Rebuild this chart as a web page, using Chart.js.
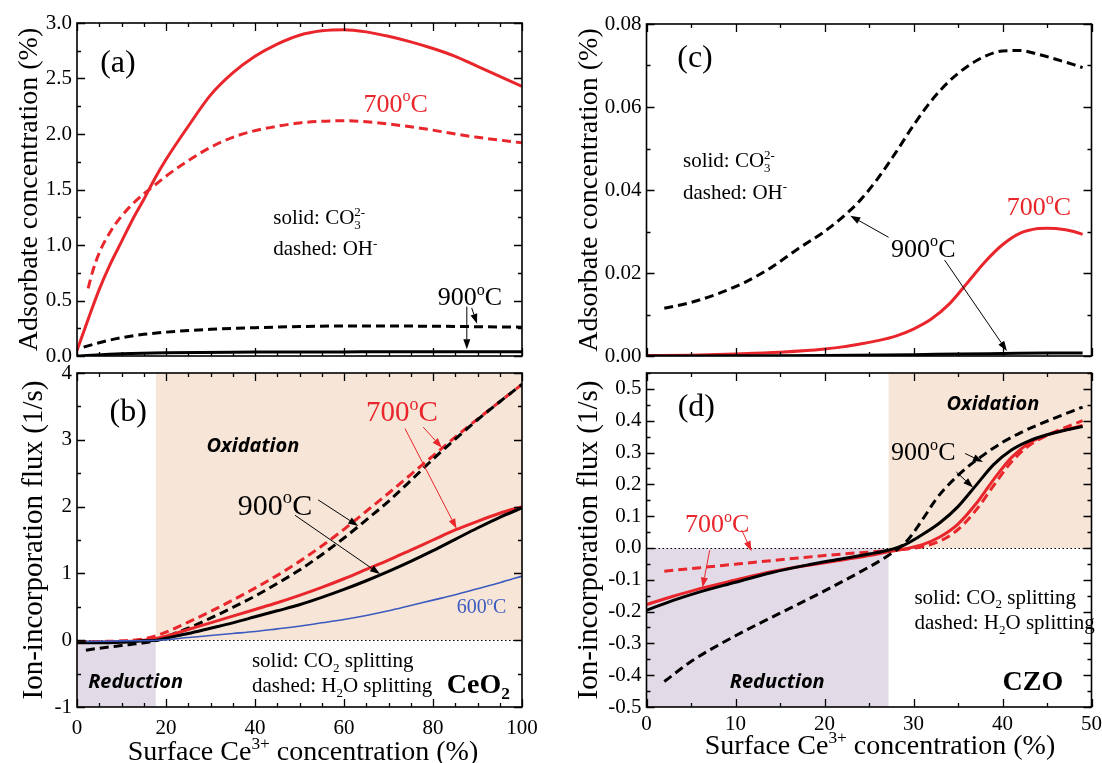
<!DOCTYPE html>
<html><head><meta charset="utf-8">
<script src="https://cdn.jsdelivr.net/npm/chart.js@4.4.1/dist/chart.umd.min.js"></script>
<style>
html,body{margin:0;padding:0;background:#fff;width:1102px;height:763px;overflow:hidden}
canvas{position:absolute;left:0;top:0}
</style></head><body>
<canvas id="ca" width="1102" height="763"></canvas>
<canvas id="cb" width="1102" height="763"></canvas>
<canvas id="cc" width="1102" height="763"></canvas>
<canvas id="cd" width="1102" height="763"></canvas>
<script>
// ===== Panel (a): adsorbate concentration on CeO2 (%) =====
const aX_700_CO3 = [0,2.5,5,7.5,10,12.5,15,17.5,20,25,30,35,40,45,50,55,60,65,70,75,80,85,90,95,100];
const aY_700_CO3 = [0.05,0.33,0.6,0.83,1.03,1.23,1.41,1.6,1.77,2.07,2.35,2.55,2.7,2.81,2.89,2.93,2.94,2.92,2.88,2.83,2.77,2.7,2.61,2.52,2.43];
const aX_700_OH  = [2.5,3.5,5,7.5,10,12.5,15,17.5,20,25,30,35,40,45,50,55,60,65,70,75,80,85,90,95,100];
const aY_700_OH  = [0.61,0.76,0.93,1.12,1.26,1.37,1.46,1.54,1.62,1.76,1.88,1.97,2.03,2.07,2.1,2.115,2.12,2.11,2.09,2.065,2.035,2.0,1.97,1.945,1.92];
const aX_900_OH  = [1.5,5,10,15,20,30,40,50,60,70,80,90,100];
const aY_900_OH  = [0.08,0.12,0.165,0.195,0.215,0.24,0.255,0.265,0.27,0.27,0.268,0.264,0.26];
const aX_900_CO3 = [0,10,20,40,60,80,100];
const aY_900_CO3 = [0.0,0.02,0.03,0.035,0.037,0.038,0.038];
const aXTicks = [0,20,40,60,80,100];
const aYTicks = [0,0.5,1.0,1.5,2.0,2.5,3.0];

// ===== Panel (b): ion-incorporation flux, CeO2 (1/s) =====
const bX_700_H2O = [0,5,10,15,18,20,25,30,35,40,45,50,55,60,65,70,75,80,85,90,95,100];
const bY_700_H2O = [-0.03,-0.02,-0.01,0.02,0.07,0.12,0.27,0.43,0.6,0.78,0.97,1.18,1.41,1.66,1.93,2.2,2.48,2.76,3.04,3.31,3.57,3.83];
const bX_900_H2O = [2,5,10,15,18,20,25,30,35,40,45,50,55,60,65,70,75,80,85,90,95,100];
const bY_900_H2O = [-0.15,-0.12,-0.08,-0.04,0.0,0.05,0.18,0.33,0.49,0.66,0.85,1.05,1.28,1.53,1.8,2.08,2.39,2.71,3.01,3.3,3.57,3.83];
const bX_700_CO2 = [0,5,10,15,18,20,25,30,35,40,45,50,55,60,65,70,75,80,85,90,95,100];
const bY_700_CO2 = [-0.03,-0.03,-0.02,0.0,0.03,0.06,0.16,0.26,0.36,0.46,0.56,0.67,0.79,0.92,1.06,1.2,1.35,1.5,1.65,1.78,1.9,2.0];
const bX_900_CO2 = [0,5,10,15,18,20,25,30,35,40,45,50,55,60,65,70,75,80,85,90,95,100];
const bY_900_CO2 = [-0.04,-0.04,-0.03,-0.01,0.0,0.03,0.1,0.18,0.26,0.35,0.44,0.53,0.64,0.76,0.89,1.03,1.18,1.34,1.51,1.68,1.84,1.98];
const bX_600_CO2 = [2,10,18,25,30,35,40,45,50,55,60,65,70,75,80,85,90,95,100];
const bY_600_CO2 = [-0.02,-0.01,0.0,0.04,0.07,0.1,0.13,0.17,0.21,0.26,0.31,0.37,0.44,0.52,0.6,0.68,0.77,0.86,0.96];
const bXTicks = [0,20,40,60,80,100];
const bYTicks = [-1,0,1,2,3,4];
const bReductionX = [0,17.7], bReductionY = [-1,0];
const bOxidationX = [17.7,100], bOxidationY = [0,4];

// ===== Panel (c): adsorbate concentration on CZO (%) =====
const cX_900_OH  = [2,5,8,11,14,17,20,22,24,26,28,30,32,34,36,38,40,42,44,46,48,49];
const cY_900_OH  = [0.0115,0.0129,0.015,0.0177,0.0213,0.0258,0.03,0.0334,0.0375,0.0428,0.049,0.0556,0.0615,0.0662,0.0697,0.0722,0.0735,0.0736,0.0727,0.0715,0.0702,0.0695];
const cX_700_CO3 = [0,5,10,15,18,20,22,24,26,28,30,32,34,36,38,40,42,44,45,46,48,49];
const cY_700_CO3 = [0.0001,0.0002,0.0005,0.0009,0.0013,0.0017,0.0022,0.0029,0.0037,0.0048,0.0065,0.0089,0.0125,0.0175,0.0226,0.0268,0.0296,0.0307,0.0308,0.0307,0.03,0.0293];
const cX_900_CO3 = [0,10,20,30,35,40,45,49];
const cY_900_CO3 = [0,0.00005,0.0001,0.0003,0.0005,0.0006,0.0007,0.0007];
const cXTicks = [0,10,20,30,40,50];
const cYTicks = [0,0.02,0.04,0.06,0.08];

// ===== Panel (d): ion-incorporation flux, CZO (1/s) =====
const dX_900_H2O = [2,5,10,15,20,25,27,28.5,29.5,30.5,31.5,32.5,33.5,35,36,38,40,42,44,46,48,49];
const dY_900_H2O = [-0.42,-0.357,-0.276,-0.205,-0.135,-0.06,-0.027,0.003,0.03,0.068,0.11,0.152,0.186,0.228,0.253,0.295,0.332,0.362,0.387,0.41,0.432,0.443];
const dX_900_CO2 = [0,3,6,10,14,18,22,25,27,29,31,33,35,37,39,41,43,45,47,49];
const dY_900_CO2 = [-0.196,-0.165,-0.138,-0.108,-0.078,-0.054,-0.034,-0.019,-0.008,0.01,0.042,0.08,0.13,0.196,0.262,0.308,0.337,0.356,0.37,0.382];
const dX_700_CO2 = [0,3,6,10,14,18,22,25,27,29,31,33,35,37,39,41,43,45,47,49];
const dY_700_CO2 = [-0.178,-0.152,-0.128,-0.101,-0.075,-0.055,-0.038,-0.024,-0.013,-0.003,0.01,0.035,0.075,0.138,0.215,0.284,0.33,0.355,0.371,0.385];
const dX_700_H2O = [2,6,10,14,18,22,26,29,31,33,35,37,39,41,43,45,47,49];
const dY_700_H2O = [-0.073,-0.062,-0.051,-0.04,-0.029,-0.019,-0.011,-0.004,0.004,0.022,0.058,0.118,0.196,0.27,0.322,0.354,0.378,0.4];
const dXTicks = [0,10,20,30,40,50];
const dYTicks = [-0.5,-0.4,-0.3,-0.2,-0.1,0.0,0.1,0.2,0.3,0.4,0.5];
const dReductionX = [0,27.2], dReductionY = [-0.5,0];
const dOxidationX = [27.2,50], dOxidationY = [0,0.55];

// ===== styling =====
const W = 1102, H = 763, YW = 70;
const RED = '#e8262b', BLACK = '#000000', BLUE = '#3b5bbf';
const OXI = 'rgb(247,229,215)', RED_ZONE = 'rgb(226,219,231)';
const SERIF = '"Liberation Serif", Tinos, "Times New Roman", "Nimbus Roman", "DejaVu Serif", serif';
const SANS = '"Open Sans", "Liberation Sans", sans-serif';
const DASH = [9,5];

function deg(v){ return [{t:v},{sup:'o'},{t:'C'}]; }
const T_CO3 = [{t:'solid: CO'},{sub:'3',sup:'2-'}];
const T_OH  = [{t:'dashed: OH'},{sup:'-'}];
const T_CO2 = [{t:'solid: CO'},{sub:'2'},{t:' splitting'}];
const T_H2O = [{t:'dashed: H'},{sub:'2'},{t:'O splitting'}];
const T_XTITLE = [{t:'Surface Ce'},{sup:'3+'},{t:' concentration (%)'}];

function ser(x, y, color, w, dash){ return {x, y, color, w, dash}; }

const PANELS = {
  ca: {
    box:{l:77,r:522,t:23,b:356}, xh:0, xpad:9, xr:[0,100], yr:[0,3], xTicks:aXTicks, yTicks:aYTicks,
    xMinor:5, yMinor:0.25, xLabels:false, yDec:1,
    series:[ser(aX_900_CO3,aY_900_CO3,BLACK,3), ser(aX_900_OH,aY_900_OH,BLACK,3,DASH),
            ser(aX_700_OH,aY_700_OH,RED,3,DASH), ser(aX_700_CO3,aY_700_CO3,RED,3)],
    regions:[], zero:false,
    texts:[
      {x:9.2,y:2.65,parts:[{t:'(a)'}],size:32,align:'center'},
      {x:71.6,y:2.28,parts:deg('700'),size:26,align:'center',color:RED},
      {x:44.1,y:1.25,parts:T_CO3,size:21,align:'left'},
      {x:44.1,y:0.97,parts:T_OH,size:21,align:'left'},
      {x:88.3,y:0.535,parts:deg('900'),size:26,align:'center'}
    ],
    arrows:[{x1:87.6,y1:0.445,x2:87.6,y2:0.06,c:BLACK},{x1:88.7,y1:0.433,x2:89.9,y2:0.29,c:BLACK}],
    yTitle:{parts:[{t:'Adsorbate concentration (%)'}],x:28,size:28}, xTitle:null
  },
  cb: {
    box:{l:77,r:522,t:373,b:707}, xh:40, xpad:9, xr:[0,100], yr:[-1,4], xTicks:bXTicks, yTicks:bYTicks,
    xMinor:5, yMinor:0.5, xLabels:true, yDec:0,
    series:[ser(bX_600_CO2,bY_600_CO2,BLUE,1.6), ser(bX_900_CO2,bY_900_CO2,BLACK,3), ser(bX_700_CO2,bY_700_CO2,RED,3),
            ser(bX_900_H2O,bY_900_H2O,BLACK,3,DASH), ser(bX_700_H2O,bY_700_H2O,RED,3,DASH)],
    regions:[{x:bReductionX,y:bReductionY,c:RED_ZONE},{x:bOxidationX,y:bOxidationY,c:OXI}], zero:true,
    texts:[
      {x:11.5,y:3.44,parts:[{t:'(b)'}],size:32,align:'center'},
      {x:29.1,y:2.92,parts:[{t:'Oxidation'}],size:20,align:'left',family:SANS,weight:'bold',style:'italic'},
      {x:2.5,y:-0.62,parts:[{t:'Reduction'}],size:20,align:'left',family:SANS,weight:'bold',style:'italic'},
      {x:44.5,y:2.02,parts:deg('900'),size:30,align:'center'},
      {x:73.0,y:3.42,parts:deg('700'),size:29,align:'center',color:RED},
      {x:90.9,y:0.50,parts:deg('600'),size:20,align:'center',color:BLUE},
      {x:39.3,y:-0.30,parts:T_CO2,size:21,align:'left'},
      {x:39.3,y:-0.67,parts:T_H2O,size:21,align:'left'},
      {x:83.1,y:-0.65,parts:[{t:'CeO'},{sub:'2'}],size:28,align:'left',weight:'bold'}
    ],
    arrows:[{x1:54.2,y1:2.10,x2:63.2,y2:1.71,c:BLACK},{x1:49.0,y1:1.87,x2:68.1,y2:0.99,c:BLACK},
            {x1:77.8,y1:3.19,x2:82.0,y2:2.88,c:RED},{x1:73.7,y1:3.17,x2:85.3,y2:1.67,c:RED}],
    yTitle:{parts:[{t:'Ion-incorporation flux (1/s)'}],x:32,size:29},
    xTitle:{parts:T_XTITLE,x:303,y:751,size:28}
  },
  cc: {
    box:{l:646.5,r:1091.5,t:24,b:356}, xh:0, xpad:9, xr:[0,50], yr:[0,0.08], xTicks:cXTicks, yTicks:cYTicks,
    xMinor:5, yMinor:0.01, xLabels:false, yDec:2,
    series:[ser(cX_900_CO3,cY_900_CO3,BLACK,3), ser(cX_700_CO3,cY_700_CO3,RED,3), ser(cX_900_OH,cY_900_OH,BLACK,3,DASH)],
    regions:[], zero:false,
    texts:[
      {x:5.45,y:0.0721,parts:[{t:'(c)'}],size:32,align:'center'},
      {x:4.1,y:0.0472,parts:T_CO3,size:21,align:'left'},
      {x:4.1,y:0.0396,parts:T_OH,size:21,align:'left'},
      {x:44.1,y:0.0361,parts:deg('700'),size:26,align:'center',color:RED},
      {x:31.1,y:0.026,parts:deg('900'),size:26,align:'center'}
    ],
    arrows:[{x1:27.2,y1:0.0286,x2:22.9,y2:0.0338,c:BLACK},{x1:33.5,y1:0.0231,x2:40.5,y2:0.0012,c:BLACK}],
    yTitle:{parts:[{t:'Adsorbate concentration (%)'}],x:588,size:28}, xTitle:null
  },
  cd: {
    box:{l:646.5,r:1091.5,t:373,b:707}, xh:40, xpad:5, xr:[0,50], yr:[-0.5,0.55], xTicks:dXTicks, yTicks:dYTicks,
    xMinor:5, yMinor:0.05, xLabels:true, yDec:1,
    series:[ser(dX_900_H2O,dY_900_H2O,BLACK,3,DASH), ser(dX_900_CO2,dY_900_CO2,BLACK,3),
            ser(dX_700_CO2,dY_700_CO2,RED,3), ser(dX_700_H2O,dY_700_H2O,RED,3,DASH)],
    regions:[{x:dReductionX,y:dReductionY,c:RED_ZONE},{x:dOxidationX,y:dOxidationY,c:OXI}], zero:true,
    texts:[
      {x:5.6,y:0.448,parts:[{t:'(d)'}],size:32,align:'center'},
      {x:7.95,y:0.077,parts:deg('700'),size:26,align:'center',color:RED},
      {x:33.7,y:0.454,parts:[{t:'Oxidation'}],size:20,align:'left',family:SANS,weight:'bold',style:'italic'},
      {x:9.36,y:-0.421,parts:[{t:'Reduction'}],size:20,align:'left',family:SANS,weight:'bold',style:'italic'},
      {x:31.1,y:0.302,parts:deg('900'),size:26,align:'center'},
      {x:30.1,y:-0.154,parts:T_CO2,size:21,align:'left'},
      {x:30.1,y:-0.233,parts:T_H2O,size:21,align:'left'},
      {x:40.0,y:-0.416,parts:[{t:'CZO'}],size:28,align:'left',weight:'bold'}
    ],
    arrows:[{x1:7.1,y1:-0.007,x2:6.3,y2:-0.124,c:RED},{x1:10.7,y1:0.056,x2:11.8,y2:-0.01,c:RED},
            {x1:35.8,y1:0.297,x2:37.8,y2:0.27,c:BLACK},{x1:34.8,y1:0.239,x2:36.7,y2:0.19,c:BLACK}],
    yTitle:{parts:[{t:'Ion-incorporation flux (1/s)'}],x:587,size:29},
    xTitle:{parts:T_XTITLE,x:880,y:745,size:28}
  }
};

// ===== drawing helpers =====
function fontStr(t, size){ return (t.style||'normal') + ' ' + (t.weight||'normal') + ' ' + size + 'px ' + (t.family||SERIF); }
function measureParts(ctx, t){
  let w = 0; const items = [];
  for (const p of t.parts){
    let pw;
    if (p.t !== undefined){ ctx.font = fontStr(t, t.size); pw = ctx.measureText(p.t).width; }
    else { ctx.font = fontStr(t, t.size*0.62);
      pw = Math.max(p.sub ? ctx.measureText(p.sub).width : 0, p.sup ? ctx.measureText(p.sup).width : 0); }
    items.push({p, w: pw}); w += pw;
  }
  return {w, items};
}
function drawRich(ctx, t, x, y){
  const m = measureParts(ctx, t);
  let cx = t.align === 'center' ? x - m.w/2 : (t.align === 'right' ? x - m.w : x);
  ctx.fillStyle = t.color || '#000';
  ctx.textAlign = 'left'; ctx.textBaseline = 'alphabetic';
  const base = y + t.size*0.33;
  for (const it of m.items){
    const p = it.p;
    if (p.t !== undefined){ ctx.font = fontStr(t, t.size); ctx.fillText(p.t, cx, base); }
    else {
      ctx.font = fontStr(t, t.size*0.62);
      if (p.sub) ctx.fillText(p.sub, cx, base + t.size*0.22);
      if (p.sup) ctx.fillText(p.sup, cx, base - t.size*0.4);
    }
    cx += it.w;
  }
}
function drawArrow(ctx, x1, y1, x2, y2, color){
  const ang = Math.atan2(y2-y1, x2-x1), L = 10, hw = 3.5;
  const bx = x2 - L*Math.cos(ang), by = y2 - L*Math.sin(ang);
  ctx.strokeStyle = color; ctx.fillStyle = color; ctx.lineWidth = 1; ctx.setLineDash([]);
  ctx.beginPath(); ctx.moveTo(x1, y1); ctx.lineTo(bx, by); ctx.stroke();
  ctx.beginPath(); ctx.moveTo(x2, y2);
  ctx.lineTo(bx + hw*Math.sin(ang), by - hw*Math.cos(ang));
  ctx.lineTo(bx - hw*Math.sin(ang), by + hw*Math.cos(ang));
  ctx.closePath(); ctx.fill();
}
function isMajor(list, v){ return list.some(t => Math.abs(t - v) < 1e-9); }

const panelPlugin = {
  id: 'panelDeco',
  beforeDatasetsDraw(chart){
    const P = PANELS[chart.canvas.id]; const ctx = chart.ctx;
    const xs = chart.scales.x, ys = chart.scales.y, a = chart.chartArea;
    ctx.save();
    for (const r of P.regions){
      const x1 = xs.getPixelForValue(r.x[0]), x2 = xs.getPixelForValue(r.x[1]);
      const y1 = ys.getPixelForValue(r.y[0]), y2 = ys.getPixelForValue(r.y[1]);
      ctx.fillStyle = r.c;
      ctx.fillRect(Math.min(x1,x2), Math.min(y1,y2), Math.abs(x2-x1), Math.abs(y2-y1));
    }
    if (P.zero){
      const y0 = Math.round(ys.getPixelForValue(0)) + 0.5;
      ctx.strokeStyle = '#000'; ctx.lineWidth = 1; ctx.setLineDash([1.5,2.5]);
      ctx.beginPath(); ctx.moveTo(a.left, y0); ctx.lineTo(a.right, y0); ctx.stroke();
    }
    ctx.restore();
  },
  afterDatasetsDraw(chart){
    const P = PANELS[chart.canvas.id]; const ctx = chart.ctx;
    const xs = chart.scales.x, ys = chart.scales.y, a = chart.chartArea;
    ctx.save();
    ctx.strokeStyle = '#000'; ctx.lineWidth = 1.6; ctx.setLineDash([]);
    ctx.strokeRect(a.left, a.top, a.right - a.left, a.bottom - a.top);
    ctx.lineWidth = 1.3;
    const nx = Math.round((P.xr[1]-P.xr[0])/P.xMinor);
    for (let i = 0; i <= nx; i++){
      const v = P.xr[0] + i*P.xMinor; const len = isMajor(P.xTicks, v) ? 8 : 4;
      const px = Math.round(xs.getPixelForValue(v)) + 0.5;
      ctx.beginPath(); ctx.moveTo(px, a.bottom); ctx.lineTo(px, a.bottom - len);
      ctx.moveTo(px, a.top); ctx.lineTo(px, a.top + len); ctx.stroke();
    }
    const ny = Math.floor((P.yr[1]-P.yr[0])/P.yMinor + 1e-6);
    for (let i = 0; i <= ny; i++){
      const v = Math.round((P.yr[0] + i*P.yMinor)*1e6)/1e6; const len = isMajor(P.yTicks, v) ? 8 : 4;
      const py = Math.round(ys.getPixelForValue(v)) + 0.5;
      ctx.beginPath(); ctx.moveTo(a.left, py); ctx.lineTo(a.left + len, py);
      ctx.moveTo(a.right, py); ctx.lineTo(a.right - len, py); ctx.stroke();
    }
    for (const ar of P.arrows){
      drawArrow(ctx, xs.getPixelForValue(ar.x1), ys.getPixelForValue(ar.y1),
                xs.getPixelForValue(ar.x2), ys.getPixelForValue(ar.y2), ar.c);
    }
    for (const t of P.texts){ drawRich(ctx, t, xs.getPixelForValue(t.x), ys.getPixelForValue(t.y)); }
    if (P.yTitle){
      ctx.save(); ctx.translate(P.yTitle.x, (a.top + a.bottom)/2); ctx.rotate(-Math.PI/2);
      drawRich(ctx, Object.assign({align:'center'}, P.yTitle), 0, 0); ctx.restore();
    }
    if (P.xTitle){ drawRich(ctx, Object.assign({align:'center'}, P.xTitle), P.xTitle.x, P.xTitle.y); }
    ctx.restore();
  }
};

function buildChart(id){
  const P = PANELS[id];
  return new Chart(document.getElementById(id), {
    type: 'line',
    data: { datasets: P.series.map(s => ({
      data: s.x.map((x, i) => ({x: x, y: s.y[i]})),
      borderColor: s.color, borderWidth: s.w, borderDash: s.dash || [],
      borderCapStyle: 'butt', pointRadius: 0, fill: false,
      cubicInterpolationMode: 'monotone'
    })) },
    options: {
      responsive: false, animation: false, events: [],
      layout: { padding: { left: P.box.l - YW, right: W - P.box.r, top: P.box.t, bottom: H - P.box.b - P.xh } },
      scales: {
        x: { type: 'linear', min: P.xr[0], max: P.xr[1],
             afterBuildTicks: s => { s.ticks = P.xTicks.map(v => ({value: v})); },
             afterFit: s => { s.height = P.xh; s.paddingLeft = 0; s.paddingRight = 0; },
             grid: { display: false, drawTicks: false }, border: { display: false },
             ticks: { display: P.xLabels, autoSkip: false, maxRotation: 0, padding: P.xpad, color: '#000',
                      font: { family: SERIF, size: 21 }, callback: v => String(v) } },
        y: { type: 'linear', min: P.yr[0], max: P.yr[1],
             afterBuildTicks: s => { s.ticks = P.yTicks.map(v => ({value: v})); },
             afterFit: s => { s.width = YW; s.paddingTop = 0; s.paddingBottom = 0; },
             grid: { display: false, drawTicks: false }, border: { display: false },
             ticks: { autoSkip: false, padding: 5, color: '#000', font: { family: SERIF, size: 21 },
                      callback: v => Number(v).toFixed(P.yDec) } }
      },
      plugins: { legend: { display: false }, tooltip: { enabled: false } }
    },
    plugins: [panelPlugin]
  });
}
function start(){ ['ca','cb','cc','cd'].forEach(buildChart); }
const fontLoads = ['21px "Liberation Serif"','bold 28px "Liberation Serif"','italic bold 20px "Open Sans"']
  .map(f => document.fonts.load(f).catch(() => null));
Promise.all(fontLoads).then(start, start);
</script>
</body></html>
